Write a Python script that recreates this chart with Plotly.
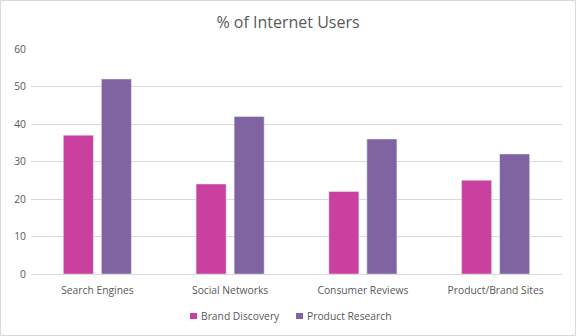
import plotly.graph_objects as go

categories = ["Search Engines", "Social Networks", "Consumer Reviews", "Product/Brand Sites"]
brand_discovery = [37, 24, 22, 25]
product_research = [52, 42, 36, 32]
y_ticks = [0, 10, 20, 30, 40, 50, 60]
series_names = ["Brand Discovery", "Product Research"]
series_colors = ["#C9409E", "#8064A2"]

W, H = 576, 336
L, R, T, B = 31, 14, 49, 62

fig = go.Figure()
for name, vals, col in zip(series_names, [brand_discovery, product_research], series_colors):
    fig.add_trace(go.Bar(name=name, x=categories, y=vals, marker_color=col, showlegend=False))

fig.update_layout(
    width=W, height=H,
    margin=dict(l=0, r=0, t=0, b=0),
    paper_bgcolor="white", plot_bgcolor="white",
    font=dict(family="Open Sans", color="#595959", size=10),
    title=dict(text="% of Internet Users", x=0.5, xanchor="center", y=1 - 22 / H, yanchor="middle",
               font=dict(size=16, color="#595959", family="Open Sans")),
    barmode="group", bargap=0.427, bargroupgap=0.21,
    xaxis=dict(domain=[L / W, 1 - R / W], showgrid=False, showline=True, linecolor="#D9D9D9",
               linewidth=1, ticks="", automargin=False, ticklabelstandoff=7,
               tickfont=dict(size=10.3, color="#595959")),
    yaxis=dict(domain=[B / H, 1 - T / H], range=[0, 60], tickvals=y_ticks, showgrid=True,
               gridcolor="#D9D9D9", gridwidth=1, zeroline=False, showline=False, ticks="",
               automargin=False, ticklabelstandoff=4, tickfont=dict(size=10.3, color="#595959")),
)

# legend drawn as coloured squares + labels
legend_x = [190, 296]
for name, col, lx in zip(series_names, series_colors, legend_x):
    fig.add_shape(type="rect", xref="paper", yref="paper",
                  x0=lx / W, x1=(lx + 7) / W, y0=1 - 319 / H, y1=1 - 313 / H,
                  line=dict(width=0), fillcolor=col)
    fig.add_annotation(text=name, xref="paper", yref="paper", x=(lx + 9) / W, y=1 - 316 / H,
                       xanchor="left", yanchor="middle", showarrow=False,
                       font=dict(size=10.3, color="#595959"))

fig.add_shape(type="rect", xref="paper", yref="paper",
              x0=0.5 / W, x1=1 - 0.5 / W, y0=0.5 / H, y1=1 - 0.5 / H,
              line=dict(color="#D9D9D9", width=1), fillcolor="rgba(0,0,0,0)", layer="below")
fig.write_html("out.html")
